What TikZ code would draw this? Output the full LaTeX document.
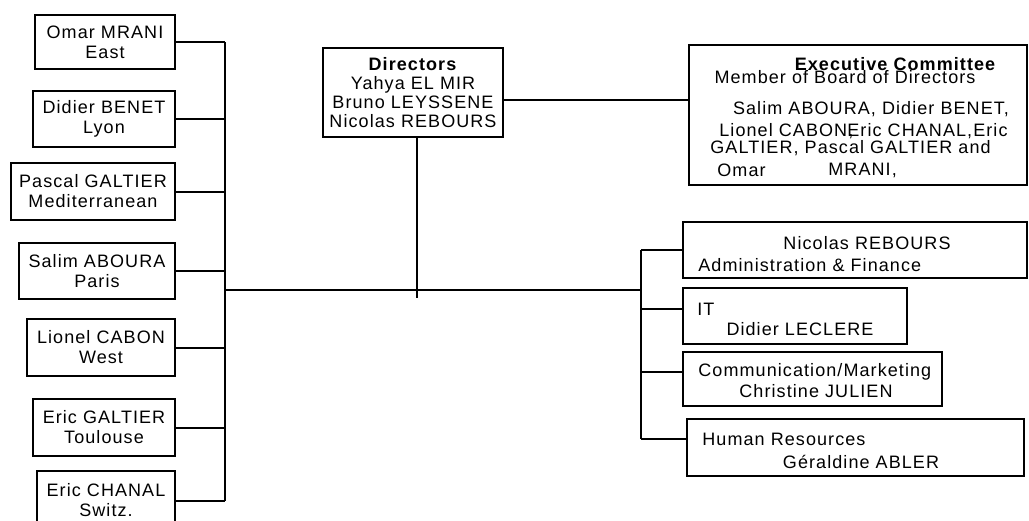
\documentclass[tikz,border=0pt]{standalone}
\usepackage{fontspec}
\setmainfont{Liberation Sans}[LetterSpace=6.0]
\usetikzlibrary{positioning}

\begin{document}
\begin{tikzpicture}[x=0.5pt, y=-0.5pt,
    font=\fontsize{9}{10}\selectfont,
    box/.style={draw, line width=1pt, inner sep=0pt, align=center},
    boxsize/.style 2 args={minimum width=#1*0.5pt, minimum height=#2*0.5pt},
    textdrop/.style={execute at begin node={\rule{0pt}{#1}}},
    txt/.style={inner sep=0pt},
    wire/.style={line width=1pt},
  ]
  \useasboundingbox (0,0) rectangle (1029,520);
  \clip (0,0) rectangle (1029,520);

  % title, cut by the top edge
  \node[txt, anchor=base, font=\fontsize{12}{14}\selectfont\bfseries\itshape]
    (title) at (582,-5) {Operational organisation and Executive Committee of the Group};

  % regional directors
  \node[box, textdrop=9.6pt, boxsize={140}{54}] (omar)   at (105,42)    {Omar MRANI\\East};
  \node[box, textdrop=9.6pt, boxsize={142}{56}] (didier) at (104,119)   {Didier BENET\\Lyon};
  \node[box, textdrop=9.6pt, boxsize={164}{57}] (pascal) at (93,191.5)  {Pascal GALTIER\\Mediterranean};
  \node[box, textdrop=9.6pt, boxsize={156}{56}] (salim)  at (97,271)    {Salim ABOURA\\Paris};
  \node[box, textdrop=9.6pt, boxsize={148}{57}] (lionel) at (101,347.5) {Lionel CABON\\West};
  \node[box, textdrop=9.6pt, boxsize={142}{57}] (ericg)  at (104,427.5) {Eric GALTIER\\Toulouse};
  \node[box, textdrop=9.6pt, boxsize={138}{59}] (chanal) at (106,500.5) {Eric CHANAL\\Switz.};

  % board
  \node[box, textdrop=10.1pt, boxsize={180}{89}, font=\fontsize{9}{9.4}\selectfont]
    (dirs) at (413,92.5) {\textbf{Directors}\\Yahya EL MIR\\Bruno LEYSSENE\\Nicolas REBOURS};

  \node[box, boxsize={338}{140}] (exec) at (858,115) {};
  \node[txt] (memb) at (845,77) {Member of Board of Directors};
  \node[txt, font=\fontsize{9}{10}\selectfont\bfseries] (exectitle) at (895,64) {Executive Committee};
  \node[txt] (ex1) at (871,109) {Salim ABOURA, Didier BENET,};
  \node[txt, anchor=west] (ex2a) at (719,131) {Lionel CABON,};
  \node[txt, anchor=west] (ex2b) at (847,131) {Eric CHANAL,Eric};
  \node[txt, anchor=west] (ex3)  at (710,148) {GALTIER, Pascal GALTIER and};
  \node[txt, anchor=west] (ex4a) at (717,170) {Omar};
  \node[txt, anchor=west] (ex4b) at (828,170) {MRANI,};

  % central services
  \node[box, boxsize={344}{56}] (admin) at (855,250) {};
  \node[txt] (admin1) at (867,243) {Nicolas REBOURS};
  \node[txt, anchor=west] (admin2) at (698,265) {Administration \& Finance};

  \node[box, boxsize={224}{56}] (it) at (795,316) {};
  \node[txt, anchor=west] (it1) at (697,309) {IT};
  \node[txt] (it2) at (800,329) {Didier LECLERE};

  \node[box, boxsize={259}{54}] (comm) at (812.5,379) {};
  \node[txt, anchor=west] (comm1) at (698,372) {Communication/Marketing};
  \node[txt] (comm2) at (816,391) {Christine JULIEN};

  \node[box, boxsize={337}{57}] (hr) at (855.5,447.5) {};
  \node[txt, anchor=west] (hr1) at (702,439) {Human Resources};
  \node[txt] (hr2) at (861,462) {Géraldine ABLER};

  % lines
  \coordinate (jL) at (225,289.5);
  \coordinate (jR) at (641,289.5);
  \coordinate (dirEnd) at (417,298);

  \foreach \n in {omar,didier,pascal,salim,lionel,ericg,chanal}
    \draw[wire] (\n.east) -- (\n.east -| jL);
  \draw[wire] (jL |- omar.east) -- (jL |- chanal.east);
  \draw[wire] (jL) -- (jR);
  \draw[wire] (dirs.south -| dirEnd) -- (dirEnd);
  \draw[wire] ([yshift=-3.75pt]dirs.east) -- ([yshift=-3.75pt]dirs.east -| exec.west);

  \draw[wire] (jR |- admin.west) -- (jR |- hr1.west);
  \draw[wire] (admin.west -| jR) -- (admin.west);
  \draw[wire] (it1.west -| jR) -- (it.west |- it1.west);
  \draw[wire] (comm1.west -| jR) -- (comm.west |- comm1.west);
  \draw[wire] (hr1.west -| jR) -- (hr.west |- hr1.west);
\end{tikzpicture}
\end{document}
